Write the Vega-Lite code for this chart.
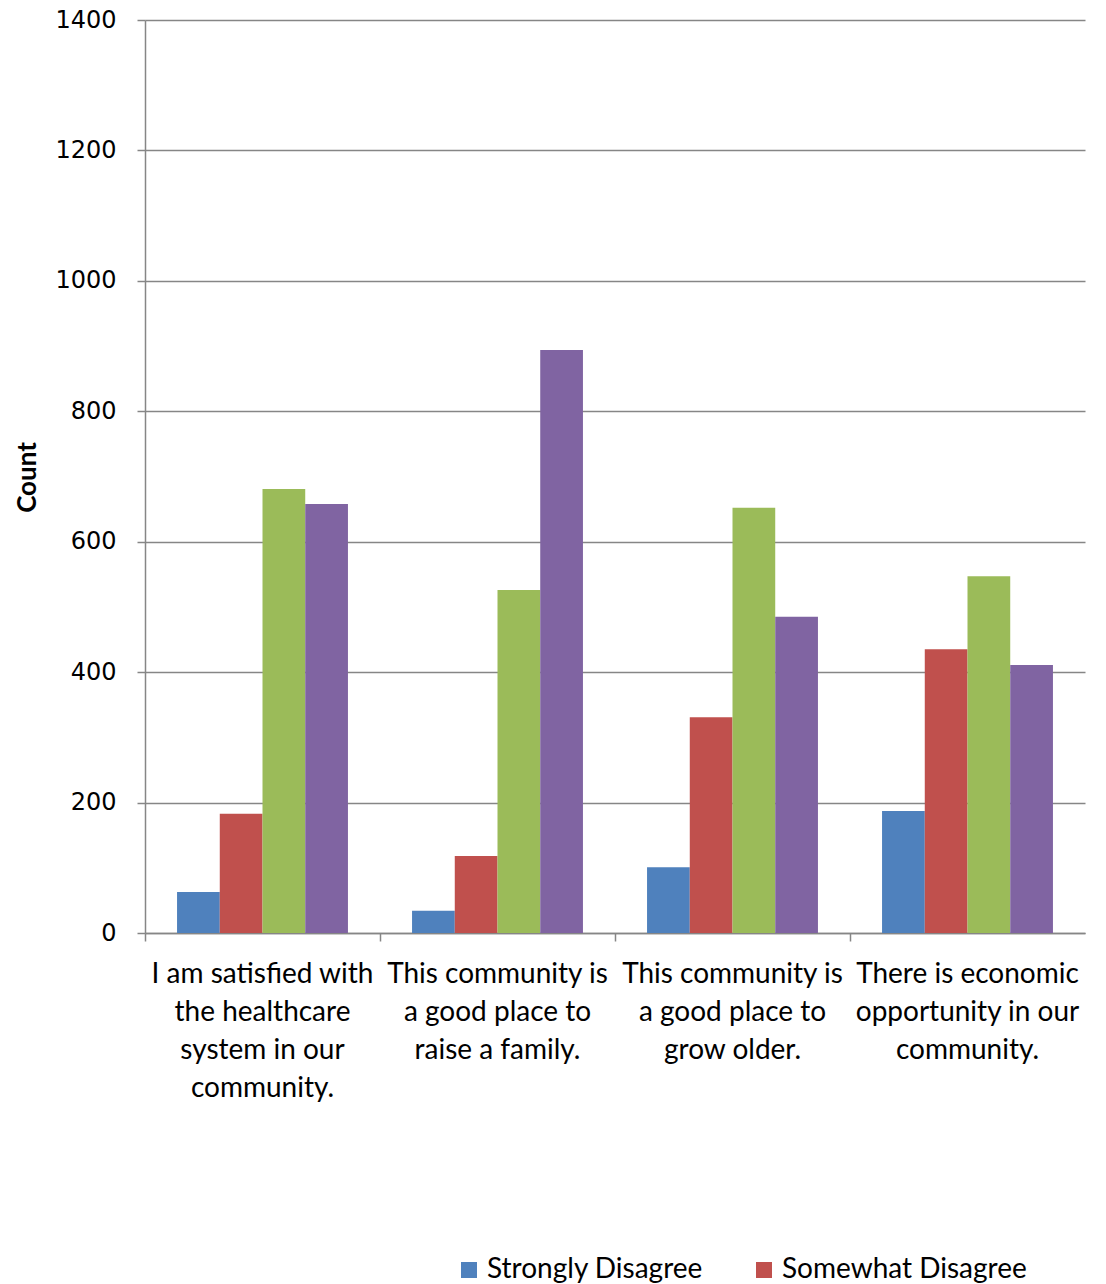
{
  "$schema": "https://vega.github.io/schema/vega-lite/v6.json",
  "autosize": {"type": "none"},
  "width": 940,
  "height": 913,
  "padding": {"left": 145, "top": 20, "right": 21, "bottom": 351},
  "background": "white",
  "data": {
    "values": [
      {"question": "I am satisfied with the healthcare system in our community.", "response": "Strongly Disagree", "count": 63},
      {"question": "I am satisfied with the healthcare system in our community.", "response": "Somewhat Disagree", "count": 183},
      {"question": "I am satisfied with the healthcare system in our community.", "response": "Somewhat Agree", "count": 681},
      {"question": "I am satisfied with the healthcare system in our community.", "response": "Strongly Agree", "count": 658},
      {"question": "This community is a good place to raise a family.", "response": "Strongly Disagree", "count": 34},
      {"question": "This community is a good place to raise a family.", "response": "Somewhat Disagree", "count": 118},
      {"question": "This community is a good place to raise a family.", "response": "Somewhat Agree", "count": 526},
      {"question": "This community is a good place to raise a family.", "response": "Strongly Agree", "count": 894},
      {"question": "This community is a good place to grow older.", "response": "Strongly Disagree", "count": 101},
      {"question": "This community is a good place to grow older.", "response": "Somewhat Disagree", "count": 331},
      {"question": "This community is a good place to grow older.", "response": "Somewhat Agree", "count": 652},
      {"question": "This community is a good place to grow older.", "response": "Strongly Agree", "count": 485},
      {"question": "There is economic opportunity in our community.", "response": "Strongly Disagree", "count": 187},
      {"question": "There is economic opportunity in our community.", "response": "Somewhat Disagree", "count": 435},
      {"question": "There is economic opportunity in our community.", "response": "Somewhat Agree", "count": 547},
      {"question": "There is economic opportunity in our community.", "response": "Strongly Agree", "count": 411}
    ]
  },
  "mark": {"type": "bar"},
  "encoding": {
    "x": {
      "field": "question",
      "type": "nominal",
      "sort": null,
      "scale": {"paddingInner": 0, "paddingOuter": 0},
      "axis": {
        "title": null,
        "labelAngle": 0,
        "bandPosition": 0,
        "labelFont": "Lato",
        "labelFontSize": 28,
        "labelColor": "#000000",
        "labelLineHeight": 38,
        "labelPadding": 19,
        "labelLimit": 400,
        "labelBaseline": "top",
        "tickSize": 8,
        "tickColor": "#868686",
        "tickWidth": 1.5,
        "domainColor": "#868686",
        "domainWidth": 1.5,
        "grid": false,
        "labelExpr": "datum.value == 'I am satisfied with the healthcare system in our community.' ? ['I am satisfied with', 'the healthcare', 'system in our', 'community.'] : datum.value == 'This community is a good place to raise a family.' ? ['This community is', 'a good place to', 'raise a family.'] : datum.value == 'This community is a good place to grow older.' ? ['This community is', 'a good place to', 'grow older.'] : ['There is economic', 'opportunity in our', 'community.']"
      }
    },
    "xOffset": {
      "field": "response",
      "type": "nominal",
      "sort": ["Strongly Disagree", "Somewhat Disagree", "Somewhat Agree", "Strongly Agree"],
      "scale": {"paddingInner": 0, "paddingOuter": 0.75}
    },
    "y": {
      "field": "count",
      "type": "quantitative",
      "scale": {"domain": [0, 1400]},
      "axis": {
        "title": "Count",
        "titleFont": "Lato",
        "titleFontSize": 26,
        "titleFontWeight": "bold",
        "titleColor": "#000000",
        "titleAngle": -90,
        "titleX": -118,
        "titleY": 457,
        "titleAlign": "center",
        "titleBaseline": "middle",
        "values": [0, 200, 400, 600, 800, 1000, 1200, 1400],
        "format": "d",
        "labelFont": "DejaVu Sans",
        "labelFontSize": 24,
        "labelColor": "#000000",
        "labelPadding": 21,
        "tickSize": 8,
        "tickColor": "#868686",
        "tickWidth": 1.5,
        "domainColor": "#868686",
        "domainWidth": 1.5,
        "grid": true,
        "gridColor": "#868686",
        "gridWidth": 1.5
      }
    },
    "color": {
      "field": "response",
      "type": "nominal",
      "sort": ["Strongly Disagree", "Somewhat Disagree", "Somewhat Agree", "Strongly Agree"],
      "scale": {
        "domain": ["Strongly Disagree", "Somewhat Disagree", "Somewhat Agree", "Strongly Agree"],
        "range": ["#4F81BD", "#C0504D", "#9BBB59", "#8064A2"]
      },
      "legend": {
        "title": null,
        "orient": "none",
        "direction": "horizontal",
        "legendX": 310,
        "legendY": 1236,
        "values": ["Strongly Disagree", "Somewhat Disagree"],
        "symbolType": "square",
        "symbolSize": 256,
        "symbolStrokeWidth": 0,
        "labelFont": "Lato",
        "labelFontSize": 28,
        "labelColor": "#000000",
        "labelOffset": 4,
        "columnPadding": 46,
        "labelLimit": 400
      }
    }
  },
  "config": {
    "view": {"stroke": null}
  }
}
